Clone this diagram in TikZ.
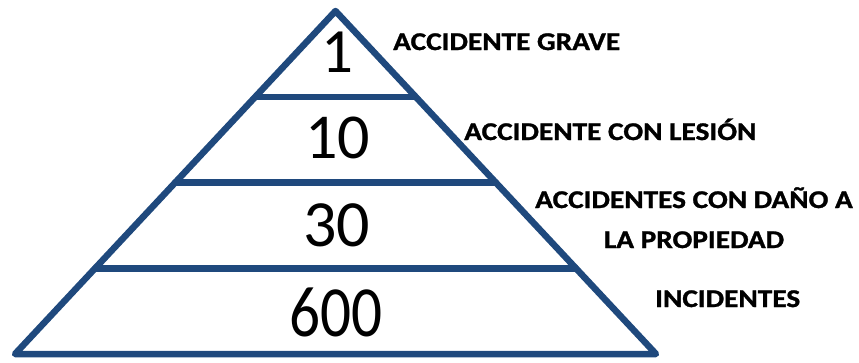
\documentclass[tikz,border=0pt]{standalone}
\usepackage{fontspec}
\setmainfont{Carlito}
\newfontfamily\lblfont[FakeStretch=1.15,FakeBold=1.2]{Carlito}
\usetikzlibrary{calc}
\definecolor{pyrblue}{RGB}{31,73,125}
\tikzset{
  pyrline/.style={draw=pyrblue, line width=6.5, line join=round, line cap=round},
  numtxt/.style={anchor=base, inner sep=0pt, text=black},
  lbltxt/.style={anchor=base west, inner sep=0pt, font=\lblfont\bfseries\fontsize{25.5}{40}\selectfont}
}

\begin{document}
\begin{tikzpicture}[x=1pt,y=1pt,yscale=-1,xscale=1]
\useasboundingbox (0,0) rectangle (859,362);

%Corners of the pyramid
\coordinate (apex) at (335.5,11);
\coordinate (bl) at (15,354);
\coordinate (br) at (656,354);
%Points where the levels cut the sides
\coordinate (l1) at ($(apex)!0.25!(bl)$);
\coordinate (r1) at ($(apex)!0.25!(br)$);
\coordinate (l2) at ($(apex)!0.5!(bl)$);
\coordinate (r2) at ($(apex)!0.5!(br)$);
\coordinate (l3) at ($(apex)!0.75!(bl)$);
\coordinate (r3) at ($(apex)!0.75!(br)$);

%Triangle
\draw [pyrline] (apex) -- (br) -- (bl) -- cycle ;
%Straight Lines
\draw [pyrline] (l1) -- (r1) ;
\draw [pyrline] (l2) -- (r2) ;
\draw [pyrline] (l3) -- (r3) ;

% Text Node
\node [numtxt, font=\fontsize{63}{63}\selectfont] (n1) at (337.5,72) {1};
% Text Node
\node [numtxt, font=\fontsize{64}{64}\selectfont] (n10) at (337.5,158) {10};
% Text Node
\node [numtxt, font=\fontsize{66}{66}\selectfont] (n30) at (336.5,246) {30};
% Text Node
\node [numtxt, font=\fontsize{72}{72}\selectfont] (n600) at (336,336) {\scalebox{0.85}[1]{600}};

% Text Node
\node [lbltxt] (grave) at (393,50) {ACCIDENTE GRAVE};
% Text Node
\node [lbltxt] (lesion) at (464,140) {ACCIDENTE CON LESIÓN};
% Text Node
\node [lbltxt, anchor=base, align=center] (dano) at (694,248) {ACCIDENTES CON DAÑO A\\LA PROPIEDAD};
% Text Node
\node [lbltxt] (incid) at (655,307) {INCIDENTES};

\end{tikzpicture}
\end{document}
